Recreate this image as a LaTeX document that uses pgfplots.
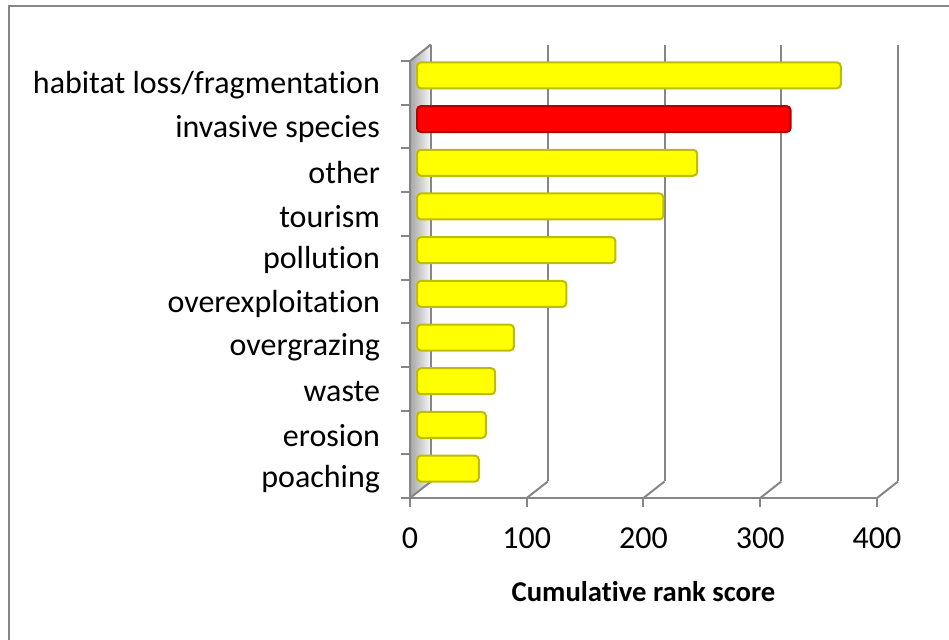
\documentclass[border=0pt]{standalone}
\usepackage{pgfplots}
\pgfplotsset{compat=1.18}
\usepackage{fontspec}
\setmainfont{Carlito}[Ligatures=CommonOff]
\definecolor{gridc}{RGB}{134,134,134}
\definecolor{baryellow}{RGB}{255,255,0}
\definecolor{baryedge}{RGB}{190,190,0}
\definecolor{barred}{RGB}{255,0,0}
\definecolor{barredge}{RGB}{180,0,0}
\pgfplotstableread{
y v
0 53
1 59
2 67
3 83
4 128
5 170
6 211
7 240
9 363
}\yellowdata
\pgfplotstableread{
y v
8 320
}\reddata
\begin{document}
\begin{tikzpicture}
\useasboundingbox (0,0) rectangle (711.75pt,479.25pt);
% chart frame
\draw[gridc, line width=1.5pt] (6.375pt,-2pt) -- (6.375pt,474.375pt) -- (713pt,474.375pt);
% left wall
\fill[left color=black!35, right color=black!3] (307.5pt,105.75pt) -- (307.5pt,433.5pt) -- (323.25pt,445.875pt) -- (323.25pt,118.125pt) -- cycle;
% back wall gridlines
\begin{axis}[
  at={(323.25pt,118.125pt)}, anchor=south west,
  width=350.25pt, height=327.75pt, scale only axis,
  xmin=0, xmax=400, ymin=-0.5, ymax=9.5,
  axis line style={draw=none},
  xtick={0,100,...,400}, ytick=\empty,
  xticklabels={}, major tick length=0pt,
  xmajorgrids, grid style={gridc, line width=1.5pt},
]
\end{axis}
% floor diagonals
\foreach \i in {0,...,4} {
  \draw[gridc, line width=1.5pt] ({307.5pt+\i*87.5625pt},105.75pt) -- ++(15.75pt,12.375pt);
}
\draw[gridc, line width=1.5pt] (307.5pt,433.5pt) -- ++(15.75pt,12.375pt);
% front axis
\begin{axis}[
  at={(307.5pt,105.75pt)}, anchor=south west,
  width=350.25pt, height=327.75pt, scale only axis,
  xmin=0, xmax=400, ymin=-0.5, ymax=9.5,
  axis lines*=left,
  axis line style={gridc, line width=1.5pt, -},
  tick style={gridc, line width=1.5pt},
  tick align=outside, major tick length=7pt,
  xtick={0,100,...,400},
  ytick={-0.5,0.5,...,9.5},
  y tick label as interval,
  yticklabels={poaching,erosion,waste,overgrazing,overexploitation,pollution,tourism,other,invasive species,habitat loss/fragmentation},
  /pgf/number format/assume math mode=true,
  ticklabel style={font=\fontsize{24}{28}\selectfont, text=black},
  yticklabel style={xshift=-12pt, yshift=-2pt},
  xticklabel style={yshift=-12pt},
  xlabel={Cumulative rank score},
  xlabel style={font=\bfseries\fontsize{21.5}{26}\selectfont, at={(axis description cs:0.5,0)}, anchor=center, yshift=-70.5pt},
]
\end{axis}
% bars (mid depth)
\begin{axis}[
  at={(312.75pt,111.375pt)}, anchor=south west,
  width=350.25pt, height=327.75pt, scale only axis,
  xmin=0, xmax=400, ymin=-0.5, ymax=9.5,
  hide axis, clip=false,
  xbar, bar width=19.5pt, bar shift=0pt,
]
\addplot[fill=baryellow, draw=baryedge, line width=1.5pt, rounded corners=3pt] table[x=v, y=y] {\yellowdata};
\addplot[fill=barred, draw=barredge, line width=1.5pt, rounded corners=3pt] table[x=v, y=y] {\reddata};
\end{axis}
\end{tikzpicture}
\end{document}
